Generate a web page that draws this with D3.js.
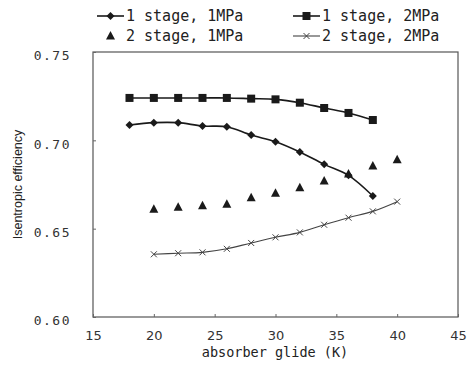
<!DOCTYPE html>
<html>
<head>
<meta charset="utf-8">
<script src="https://cdn.jsdelivr.net/npm/d3@7"></script>
<style>
  body { margin: 0; background: #fff; }
  svg { display: block; }
</style>
</head>
<body>
<div id="chart"></div>
<script>
// data
const glideA = [18, 20, 22, 24, 26, 28, 30, 32, 34, 36, 38];
const stage1MPa1 = [0.7087, 0.7100, 0.7100, 0.7081, 0.7077, 0.7030, 0.6992, 0.6934, 0.6864, 0.6802, 0.6685];
const stage1MPa2 = [0.7240, 0.7240, 0.7240, 0.7240, 0.7240, 0.7236, 0.7232, 0.7213, 0.7183, 0.7155, 0.7115];
const glideB = [20, 22, 24, 26, 28, 30, 32, 34, 36, 38, 40];
const stage2MPa1 = [0.6610, 0.6621, 0.6630, 0.6638, 0.6675, 0.6700, 0.6732, 0.6770, 0.6810, 0.6855, 0.6890];
const stage2MPa2 = [0.6355, 0.6361, 0.6366, 0.6386, 0.6419, 0.6451, 0.6479, 0.6522, 0.6562, 0.6598, 0.6653];
const xTicks = [15, 20, 25, 30, 35, 40, 45];
const yTicks = [0.60, 0.65, 0.70, 0.75];
const legendNames = ["1 stage, 1MPa", "1 stage, 2MPa", "2 stage, 1MPa", "2 stage, 2MPa"];

const width = 472, height = 365;
const margin = { top: 52, right: 14, bottom: 48, left: 93 };

const svg = d3.select("#chart")
  .append("svg")
  .attr("width", width)
  .attr("height", height);

const x = d3.scaleLinear().domain([15, 45]).range([margin.left, width - margin.right]);
const y = d3.scaleLinear().domain([0.60, 0.75]).range([height - margin.bottom, margin.top]);

const ink = "#1a1a1a";
const mono = "'DejaVu Sans Mono', 'Liberation Mono', monospace";

// plot frame
svg.append("rect")
  .attr("x", x(15)).attr("y", y(0.75))
  .attr("width", x(45) - x(15)).attr("height", y(0.60) - y(0.75))
  .attr("fill", "none").attr("stroke", "#555").attr("stroke-width", 1.2);

// axes
const xAxis = svg.append("g")
  .attr("transform", `translate(0,${y(0.60)})`)
  .call(d3.axisBottom(x).tickValues(xTicks).tickSize(-3).tickPadding(14).tickFormat(d3.format("d")));
xAxis.select(".domain").remove();
xAxis.selectAll("line").attr("stroke", "#666");
xAxis.selectAll("text").attr("font-family", "'DejaVu Sans', sans-serif").attr("font-size", 13).attr("fill", "#333");

const yAxis = svg.append("g")
  .attr("transform", `translate(${x(15)},0)`)
  .call(d3.axisLeft(y).tickValues(yTicks).tickSize(-3).tickPadding(22).tickFormat(d3.format(".2f")));
yAxis.select(".domain").remove();
yAxis.selectAll("line").attr("stroke", "#666");
yAxis.selectAll("text").attr("font-family", mono).attr("font-size", 13)
  .attr("letter-spacing", 1.5).attr("fill", "#333").attr("dy", "0.6em");

// axis titles
svg.append("text")
  .attr("x", 275).attr("y", 357)
  .attr("text-anchor", "middle")
  .attr("font-family", mono).attr("font-size", 13.5).attr("fill", "#222")
  .text("absorber glide (K)");

svg.append("text")
  .attr("transform", `translate(22,${(y(0.60) + y(0.75)) / 2}) rotate(-90)`)
  .attr("text-anchor", "middle")
  .attr("font-family", "'Liberation Sans', sans-serif").attr("font-size", 12.5).attr("fill", "#222")
  .text("Isentropic efficiency");

const line = d3.line().x(d => x(d[0])).y(d => y(d[1])).curve(d3.curveCatmullRom.alpha(0.5));

// marker shapes
function diamond(g, cx, cy) {
  g.append("path").attr("d", `M${cx},${cy - 4}L${cx + 4},${cy}L${cx},${cy + 4}L${cx - 4},${cy}Z`).attr("fill", ink);
}
function square(g, cx, cy) {
  g.append("rect").attr("x", cx - 4).attr("y", cy - 4).attr("width", 8).attr("height", 8).attr("fill", ink);
}
function triangle(g, cx, cy) {
  g.append("path").attr("d", `M${cx},${cy - 5}L${cx + 4.5},${cy + 3.5}L${cx - 4.5},${cy + 3.5}Z`).attr("fill", ink);
}
function cross(g, cx, cy) {
  g.append("path").attr("d", `M${cx - 3},${cy - 3}L${cx + 3},${cy + 3}M${cx - 3},${cy + 3}L${cx + 3},${cy - 3}`)
    .attr("stroke", "#444").attr("stroke-width", 1);
}

const series = [
  { xs: glideA, ys: stage1MPa1, mark: diamond, lined: true, w: 1.6 },
  { xs: glideA, ys: stage1MPa2, mark: square, lined: true, w: 1.6 },
  { xs: glideB, ys: stage2MPa1, mark: triangle, lined: false, w: 0 },
  { xs: glideB, ys: stage2MPa2, mark: cross, lined: true, w: 1.1 }
];

series.forEach(s => {
  const pts = s.xs.map((v, i) => [v, s.ys[i]]);
  const g = svg.append("g");
  if (s.lined) {
    g.append("path").datum(pts)
      .attr("fill", "none").attr("stroke", s.mark === cross ? "#444" : ink).attr("stroke-width", s.w)
      .attr("d", line);
  }
  pts.forEach(p => s.mark(g, x(p[0]), y(p[1])));
});

// legend
const legendPos = [[97, 16], [293, 16], [97, 36], [293, 36]];
series.forEach((s, i) => {
  const [lx, ly] = legendPos[i];
  const g = svg.append("g");
  if (s.lined) {
    g.append("line").attr("x1", lx).attr("x2", lx + 27).attr("y1", ly).attr("y2", ly)
      .attr("stroke", s.mark === cross ? "#444" : ink).attr("stroke-width", s.w);
  }
  s.mark(g, lx + 13.5, ly);
  g.append("text")
    .attr("x", lx + 29).attr("y", ly).attr("dy", "0.35em")
    .attr("font-family", mono).attr("font-size", 15).attr("fill", "#222")
    .text(legendNames[i]);
});
</script>
</body>
</html>
